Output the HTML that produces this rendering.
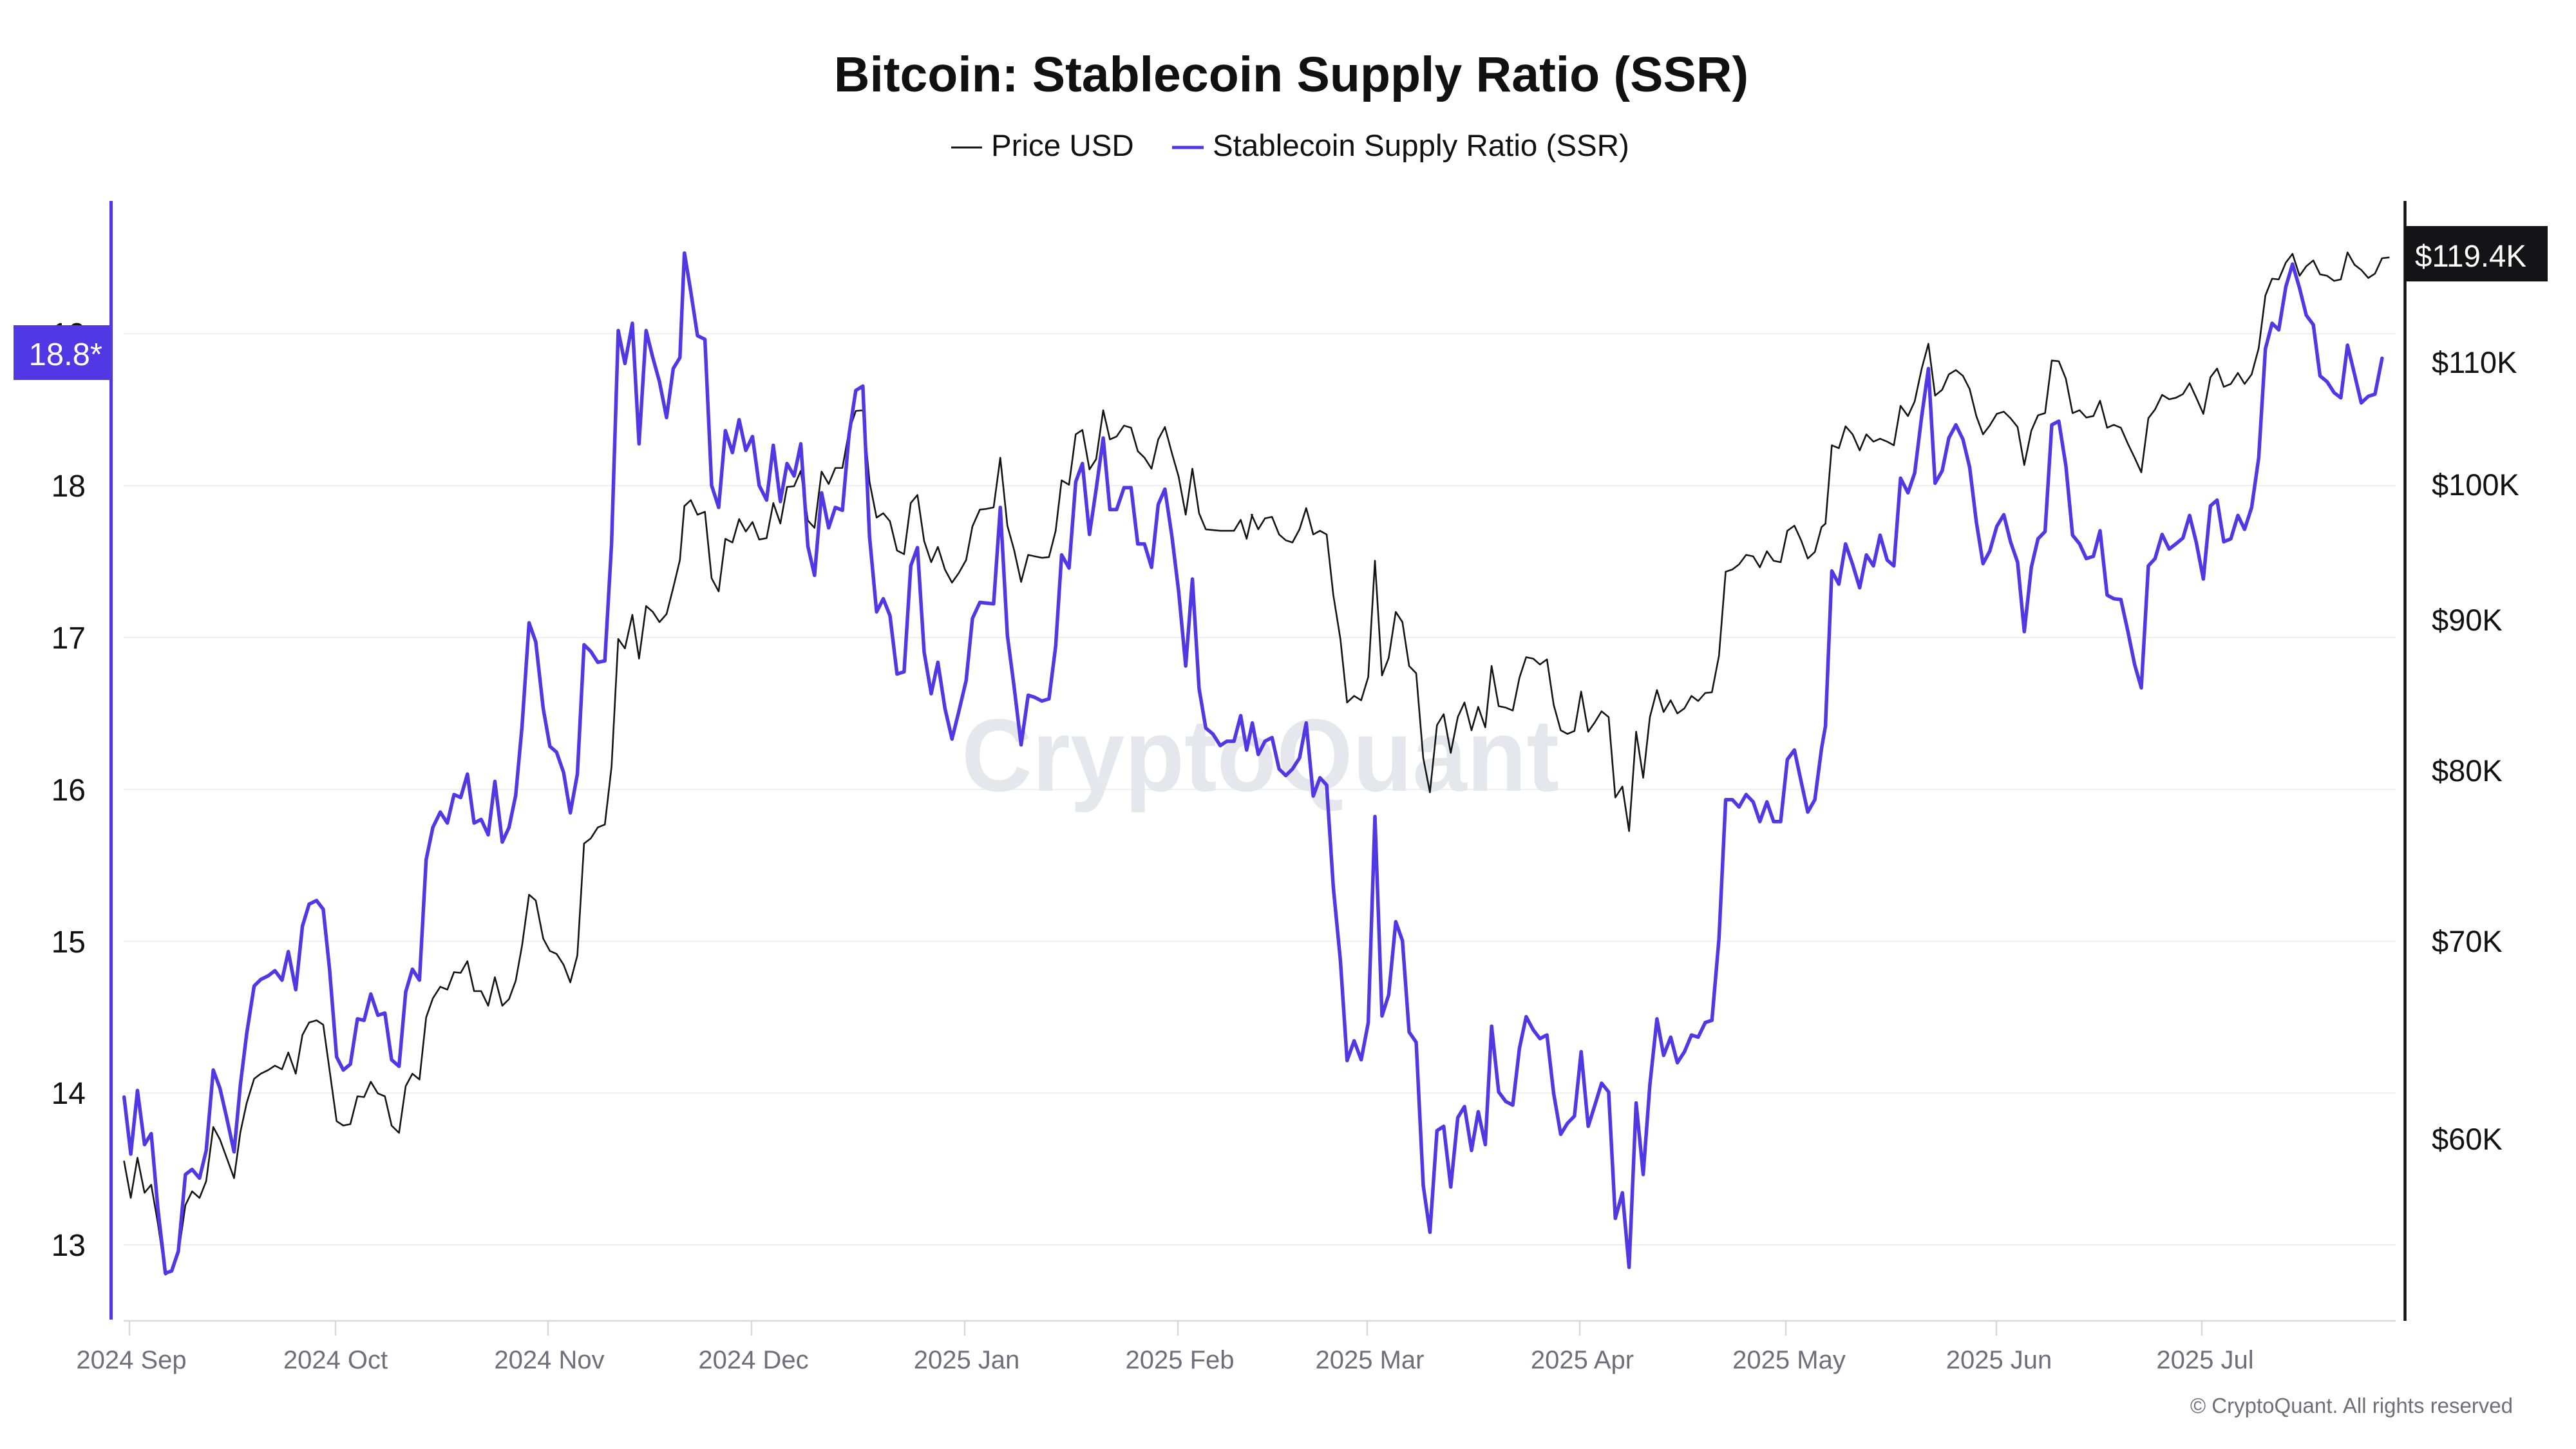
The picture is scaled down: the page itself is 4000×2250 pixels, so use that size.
<!DOCTYPE html>
<html>
<head>
<meta charset="utf-8">
<style>
html,body{margin:0;padding:0;background:#fff;}
svg{display:block;font-family:"Liberation Sans",Arial,sans-serif;}
.p{fill:none;stroke:#5038E4;stroke-width:5.5;stroke-linejoin:round;stroke-linecap:round;vector-effect:non-scaling-stroke;}
.b{fill:none;stroke:#141414;stroke-width:2.6;stroke-linejoin:round;stroke-linecap:round;vector-effect:non-scaling-stroke;}
</style>
</head>
<body>
<svg width="4000" height="2250" viewBox="0 0 4000 2250" xmlns="http://www.w3.org/2000/svg">
<rect x="0" y="0" width="4000" height="2250" fill="#fff"/>

<!-- Title -->
<text x="2005" y="142" font-size="77" font-weight="bold" fill="#111" text-anchor="middle">Bitcoin: Stablecoin Supply Ratio (SSR)</text>

<!-- Legend -->
<line x1="1477" y1="229" x2="1525" y2="229" stroke="#141414" stroke-width="3"/>
<text x="1539" y="242" font-size="47.5" fill="#111">Price USD</text>
<line x1="1820" y1="229" x2="1869" y2="229" stroke="#5038E4" stroke-width="5"/>
<text x="1883" y="242" font-size="47.5" fill="#111">Stablecoin Supply Ratio (SSR)</text>

<!-- Gridlines -->
<g stroke="#efeff2" stroke-width="2">
<line x1="192" y1="518.3" x2="3720" y2="518.3"/>
<line x1="192" y1="754.1" x2="3720" y2="754.1"/>
<line x1="192" y1="989.9" x2="3720" y2="989.9"/>
<line x1="192" y1="1225.7" x2="3720" y2="1225.7"/>
<line x1="192" y1="1461.5" x2="3720" y2="1461.5"/>
<line x1="192" y1="1697.3" x2="3720" y2="1697.3"/>
<line x1="192" y1="1933" x2="3720" y2="1933"/>
</g>

<!-- Watermark -->
<text x="1957" y="1228" font-size="160" font-weight="bold" fill="#e6e6ed" text-anchor="middle" textLength="928" lengthAdjust="spacingAndGlyphs">CryptoQuant</text>

<!-- Bottom axis -->
<line x1="192" y1="2051" x2="3720" y2="2051" stroke="#d8d8e0" stroke-width="2.5"/>
<g stroke="#d8d8e0" stroke-width="2.5">
<line x1="201" y1="2051" x2="201" y2="2074"/>
<line x1="521" y1="2051" x2="521" y2="2074"/>
<line x1="851" y1="2051" x2="851" y2="2074"/>
<line x1="1167" y1="2051" x2="1167" y2="2074"/>
<line x1="1498" y1="2051" x2="1498" y2="2074"/>
<line x1="1829" y1="2051" x2="1829" y2="2074"/>
<line x1="2123" y1="2051" x2="2123" y2="2074"/>
<line x1="2453" y1="2051" x2="2453" y2="2074"/>
<line x1="2773" y1="2051" x2="2773" y2="2074"/>
<line x1="3100" y1="2051" x2="3100" y2="2074"/>
<line x1="3419" y1="2051" x2="3419" y2="2074"/>
</g>
<g font-size="40" fill="#6f6e7a" text-anchor="middle">
<text x="204" y="2125">2024 Sep</text>
<text x="521" y="2125">2024 Oct</text>
<text x="853" y="2125">2024 Nov</text>
<text x="1170" y="2125">2024 Dec</text>
<text x="1501" y="2125">2025 Jan</text>
<text x="1832" y="2125">2025 Feb</text>
<text x="2127" y="2125">2025 Mar</text>
<text x="2457" y="2125">2025 Apr</text>
<text x="2778" y="2125">2025 May</text>
<text x="3104" y="2125">2025 Jun</text>
<text x="3424" y="2125">2025 Jul</text>
</g>

<!-- Left axis labels -->
<g font-size="48" fill="#111" text-anchor="end">
<text x="133" y="535">19</text>
<text x="133" y="771">18</text>
<text x="133" y="1007">17</text>
<text x="133" y="1243">16</text>
<text x="133" y="1479">15</text>
<text x="133" y="1714">14</text>
<text x="133" y="1950">13</text>
</g>

<!-- Right axis labels -->
<g font-size="47" fill="#111">
<text x="3776" y="579">$110K</text>
<text x="3776" y="769">$100K</text>
<text x="3776" y="979">$90K</text>
<text x="3776" y="1213">$80K</text>
<text x="3776" y="1478">$70K</text>
<text x="3776" y="1785">$60K</text>
</g>

<!-- Series -->
<g transform="translate(180,300) scale(0.576923,1.134615)">
<polyline class="b" points="22,1325 40,1375 58,1320 77,1368 95,1357 113,1410 133,1480 150,1475 168,1452 187,1385 205,1366 225,1375 243,1352 262,1278 280,1295 298,1320 318,1348 335,1285 352,1245 372,1212 390,1205 410,1200 428,1194 447,1199 464,1176 484,1205 502,1152 520,1135 540,1132 558,1138 575,1200 594,1270 612,1276 631,1274 650,1236 668,1237 686,1216 705,1232 724,1236 742,1276 762,1286 780,1222 798,1205 817,1213 835,1128 853,1102 873,1086 892,1090 910,1066 928,1067 946,1051 964,1092 983,1092 1002,1112 1020,1073 1040,1112 1058,1103 1076,1078 1093,1030 1112,960 1130,968 1150,1020 1168,1037 1186,1041 1205,1056 1223,1080 1242,1043 1260,890 1278,883 1297,868 1316,864 1334,785 1352,610 1370,623 1390,577 1408,637 1427,565 1445,573 1463,587 1482,576 1500,540 1518,502 1530,428"/>
<polyline class="p" points="22,1237 40,1315 58,1228 77,1302 95,1287 113,1390 133,1478 150,1475 168,1448 187,1343 205,1336 225,1348 243,1310 262,1200 280,1225 298,1265 318,1312 335,1220 352,1150 372,1085 390,1076 410,1071 428,1064 447,1077 464,1038 484,1090 502,1003 520,973 540,968 558,980 575,1062 594,1182 612,1200 631,1192 650,1130 668,1132 686,1096 705,1125 724,1122 742,1186 762,1195 780,1093 798,1062 817,1077 835,912 853,868 873,847 892,862 910,823 928,827 946,795 964,862 983,857 1002,878 1020,805 1040,888 1058,868 1076,824 1093,730 1112,588 1130,614 1150,705 1168,757 1186,765 1205,793 1223,848 1242,795 1260,618 1278,627 1297,642 1316,640 1334,480 1352,188 1370,233 1390,178 1408,343 1427,188 1445,225 1463,258 1482,307 1500,240 1518,225 1530,82"/>
</g>
<g transform="translate(1060,300) scale(0.576923,1.134615)">
<polyline class="b" points="5,428 22,420 40,440 60,436 78,527 97,545 115,473 134,478 152,446 170,463 188,450 206,474 226,472 244,424 263,452 281,402 300,401 318,380 337,448 355,458 374,381 393,398 411,376 430,376 448,325 466,298 485,297 503,395 522,444 540,438 558,449 577,489 596,494 614,424 632,413 650,476 669,505 687,484 706,515 725,533 743,520 763,502 780,456 800,433 818,432 837,430 855,362 874,455 892,488 911,532 930,495 948,497 967,499 986,498 1004,462 1020,393 1040,399 1058,330 1076,324 1095,378 1113,364 1132,297 1150,337 1168,333 1188,318 1207,321 1225,353 1243,362 1262,377 1280,337 1298,320 1317,356 1335,388 1354,440 1372,377 1390,438 1408,460 1427,461 1447,462 1465,462 1484,462 1502,447 1518,473 1533,440"/>
<polyline class="p" points="5,82 22,135 40,195 60,200 78,400 97,430 115,325 134,355 152,310 170,352 188,333 206,400 226,420 244,345 263,422 281,370 300,387 318,343 337,483 355,523 374,410 393,458 411,430 430,434 448,330 466,270 485,264 503,470 522,573 540,555 558,578 577,658 596,655 614,510 632,485 650,628 669,685 687,642 706,705 725,747 743,710 763,667 780,582 800,560 818,561 837,562 855,430 874,605 892,675 911,755 930,687 948,690 967,695 986,692 1004,620 1020,495 1040,513 1058,395 1076,370 1095,467 1113,405 1132,335 1150,433 1168,433 1188,403 1207,403 1225,480 1243,480 1262,512 1280,426 1298,405 1317,470 1335,545 1354,647 1372,528 1390,678 1408,732 1427,740 1447,756 1465,750 1484,750 1502,715 1518,762 1533,726"/>
</g>
<g transform="translate(1940,300) scale(0.576923,1.134615)">
<polyline class="b" points="6,440 24,460 42,445 61,443 80,467 98,475 116,478 135,460 153,431 172,467 190,462 208,467 226,550 245,610 263,697 282,688 301,694 320,662 338,503 357,660 375,636 394,573 412,587 430,647 449,657 468,773 486,820 505,728 523,713 542,766 561,717 579,697 598,735 616,703 635,731 652,647 671,702 690,704 709,708 727,663 745,635 764,637 782,645 801,638 819,700 838,735 856,740 875,736 893,682 912,737 930,724 948,709 967,717 985,827 1004,812 1022,873 1041,737 1060,800 1078,717 1097,680 1115,710 1134,694 1152,712 1171,705 1190,688 1208,695 1227,684 1245,683 1264,633 1282,518 1300,515 1318,508 1337,495 1356,497 1374,512 1393,490 1411,503 1430,505 1448,462 1467,455 1485,475 1503,500 1522,491 1540,457 1551,452"/>
<polyline class="p" points="8,725 24,768 42,750 61,745 80,788 98,797 116,788 135,773 153,725 172,825 190,800 208,810 226,950 245,1050 263,1187 282,1160 301,1186 320,1135 338,853 357,1126 375,1097 394,997 412,1023 430,1148 449,1162 468,1358 486,1422 505,1283 523,1277 542,1360 561,1265 579,1250 598,1310 616,1257 635,1302 652,1140 671,1230 690,1243 709,1248 727,1170 745,1127 764,1145 782,1157 801,1152 819,1232 838,1288 856,1273 875,1263 893,1175 912,1277 930,1248 948,1218 967,1230 985,1403 1004,1368 1022,1470 1041,1245 1060,1343 1078,1220 1097,1130 1115,1180 1134,1155 1152,1190 1171,1175 1190,1152 1208,1155 1227,1135 1245,1132 1264,1020 1282,830 1300,830 1318,840 1337,823 1356,833 1374,860 1393,833 1411,860 1430,860 1448,775 1467,762 1485,805 1503,847 1522,830 1540,760 1551,728"/>
</g>
<g transform="translate(2830,300) scale(0.576923,1.134615)">
<polyline class="b" points="8,452 25,345 44,349 62,319 81,330 100,352 118,330 137,340 155,336 174,340 192,345 210,291 230,305 248,285 267,240 285,206 303,277 322,269 340,248 359,242 378,250 396,268 414,305 432,330 450,318 469,302 488,299 506,308 525,320 543,372 562,325 580,304 599,301 617,229 636,230 655,254 673,301 692,297 710,307 729,305 747,284 766,321 784,317 803,321 822,343 840,362 858,382 877,308 895,296 914,276 933,282 951,280 970,275 988,260 1006,280 1025,302 1044,252 1062,240 1080,265 1099,261 1118,246 1136,261 1155,248 1174,212 1192,140 1210,117 1228,118 1247,95 1265,83 1284,113 1302,100 1321,92 1339,111 1358,113 1377,120 1395,118 1413,81 1432,98 1450,105 1469,116 1487,110 1506,89 1524,88"/>
<polyline class="p" points="8,728 25,517 44,535 62,480 81,508 100,540 118,495 137,510 155,468 174,502 192,510 210,390 230,410 248,383 267,305 285,240 303,397 322,380 340,335 359,317 378,337 396,375 414,450 432,507 450,490 469,456 488,440 506,477 525,505 543,600 562,512 580,473 599,463 617,317 636,312 655,373 673,468 692,480 710,500 729,497 747,462 766,550 784,555 803,556 822,600 840,645 858,677 877,510 895,500 914,467 933,487 951,480 970,472 988,441 1006,478 1025,528 1044,428 1062,420 1080,477 1099,473 1118,441 1136,460 1155,430 1174,362 1192,213 1210,178 1228,187 1247,128 1265,97 1284,130 1302,167 1321,180 1339,250 1358,258 1377,273 1395,280 1413,208 1432,248 1450,287 1469,278 1487,275 1506,226"/>
</g>

<!-- Axis lines -->
<line x1="172.5" y1="312" x2="172.5" y2="2049" stroke="#5038E4" stroke-width="5"/>
<line x1="3734.5" y1="312" x2="3734.5" y2="2051" stroke="#141414" stroke-width="4.5"/>

<!-- Current value labels -->
<rect x="21" y="505" width="151" height="85" fill="#5038E4"/>
<text x="159" y="567" font-size="49" fill="#fff" text-anchor="end">18.8*</text>
<rect x="3733" y="351" width="223" height="86" fill="#141416"/>
<text x="3750" y="414" font-size="48" fill="#fff" textLength="173" lengthAdjust="spacingAndGlyphs">$119.4K</text>

<!-- Copyright -->
<text x="3902" y="2194" font-size="33" fill="#6f6e7a" text-anchor="end">© CryptoQuant. All rights reserved</text>
</svg>
</body>
</html>
